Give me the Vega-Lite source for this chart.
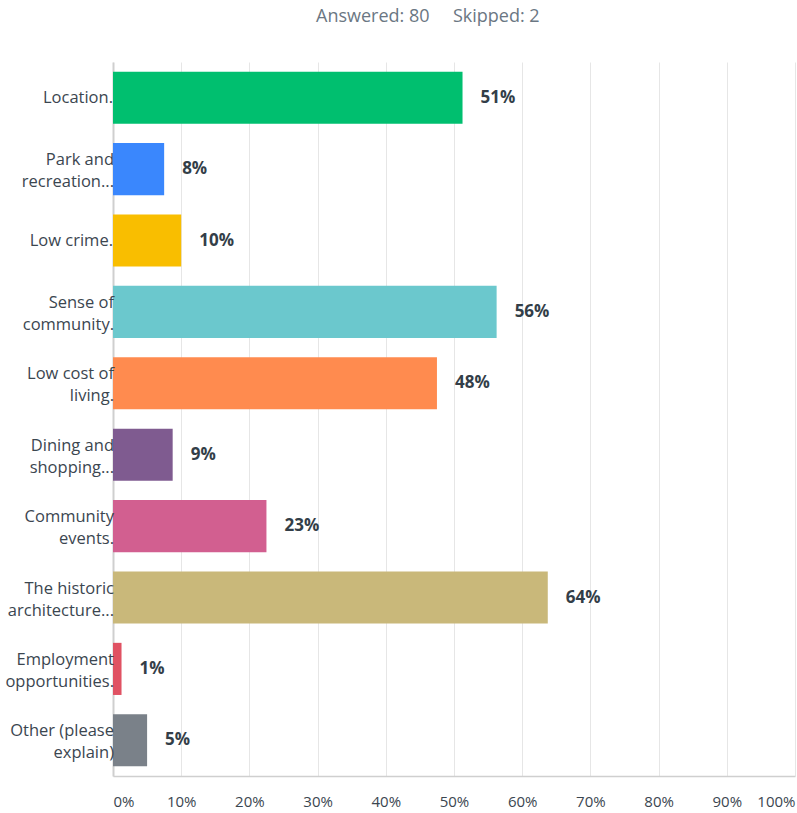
{
  "$schema": "https://vega.github.io/schema/vega-lite/v6.json",
  "width": 682,
  "height": 714,
  "autosize": {"type": "none"},
  "padding": {"left": 113, "top": 62, "right": 2, "bottom": 37},
  "background": "white",
  "title": {
    "text": "Answered: 80\u00a0\u00a0\u00a0\u00a0\u00a0Skipped: 2",
    "anchor": "start",
    "frame": "group",
    "dx": 203,
    "offset": 36,
    "fontSize": 18,
    "fontWeight": "normal",
    "font": "Open Sans",
    "color": "#6b7783"
  },
  "data": {
    "values": [
      {"answer": "Location.", "line1": "Location.", "line2": null, "value": 0.5125, "label": "51%"},
      {"answer": "Park and recreation...", "line1": "Park and", "line2": "recreation...", "value": 0.075, "label": "8%"},
      {"answer": "Low crime.", "line1": "Low crime.", "line2": null, "value": 0.10, "label": "10%"},
      {"answer": "Sense of community.", "line1": "Sense of", "line2": "community.", "value": 0.5625, "label": "56%"},
      {"answer": "Low cost of living.", "line1": "Low cost of", "line2": "living.", "value": 0.475, "label": "48%"},
      {"answer": "Dining and shopping...", "line1": "Dining and", "line2": "shopping...", "value": 0.0875, "label": "9%"},
      {"answer": "Community events.", "line1": "Community", "line2": "events.", "value": 0.225, "label": "23%"},
      {"answer": "The historic architecture...", "line1": "The historic", "line2": "architecture...", "value": 0.6375, "label": "64%"},
      {"answer": "Employment opportunities.", "line1": "Employment", "line2": "opportunities.", "value": 0.0125, "label": "1%"},
      {"answer": "Other (please explain)", "line1": "Other (please", "line2": "explain)", "value": 0.05, "label": "5%"}
    ]
  },
  "config": {
    "view": {"stroke": null},
    "font": "Open Sans"
  },
  "encoding": {
    "y": {
      "field": "answer",
      "type": "nominal",
      "sort": null,
      "scale": {"paddingInner": 0.27, "paddingOuter": 0.135},
      "axis": {
        "title": null,
        "labels": false,
        "ticks": false,
        "domain": true,
        "domainColor": "#cfcfcf",
        "domainWidth": 2
      }
    },
    "x": {
      "field": "value",
      "type": "quantitative",
      "scale": {"domain": [0, 1], "nice": false},
      "axis": {
        "title": null,
        "values": [0, 0.1, 0.2, 0.3, 0.4, 0.5, 0.6, 0.7, 0.8, 0.9, 1],
        "format": ".0%",
        "labelFlush": true,
        "labelFontSize": 15,
        "labelColor": "#3b4650",
        "labelPadding": 18,
        "ticks": false,
        "grid": true,
        "gridColor": "#e6e6e6",
        "gridWidth": 1,
        "domainColor": "#cfcfcf",
        "domainWidth": 1.5,
        "labelFont": "Open Sans"
      }
    }
  },
  "layer": [
    {
      "mark": {"type": "bar", "cornerRadius": 0},
      "encoding": {
        "color": {
          "field": "answer",
          "type": "nominal",
          "sort": null,
          "legend": null,
          "scale": {
            "range": ["#00bf6f", "#3a87fd", "#f9be00", "#6bc8cd", "#ff8b4f", "#7f5b90", "#d25f90", "#c9b87a", "#e05263", "#7a8189"]
          }
        }
      }
    },
    {
      "mark": {"type": "text", "align": "left", "dx": 18, "fontSize": 17, "fontWeight": "bold", "color": "#333e48", "font": "Open Sans"},
      "encoding": {
        "text": {"field": "label"}
      }
    },
    {
      "transform": [{"filter": "datum.line2 == null"}],
      "mark": {"type": "text", "align": "right", "baseline": "middle", "dx": 0, "fontSize": 16.5, "color": "#3b4650", "font": "Open Sans"},
      "encoding": {
        "x": {"datum": 0},
        "text": {"field": "line1"}
      }
    },
    {
      "transform": [{"filter": "datum.line2 != null"}],
      "mark": {"type": "text", "align": "right", "baseline": "middle", "dx": 1, "dy": -9, "fontSize": 16.5, "color": "#3b4650", "font": "Open Sans"},
      "encoding": {
        "x": {"datum": 0},
        "text": {"field": "line1"}
      }
    },
    {
      "transform": [{"filter": "datum.line2 != null"}],
      "mark": {"type": "text", "align": "right", "baseline": "middle", "dx": 1, "dy": 13, "fontSize": 16.5, "color": "#3b4650", "font": "Open Sans"},
      "encoding": {
        "x": {"datum": 0},
        "text": {"field": "line2"}
      }
    }
  ]
}
